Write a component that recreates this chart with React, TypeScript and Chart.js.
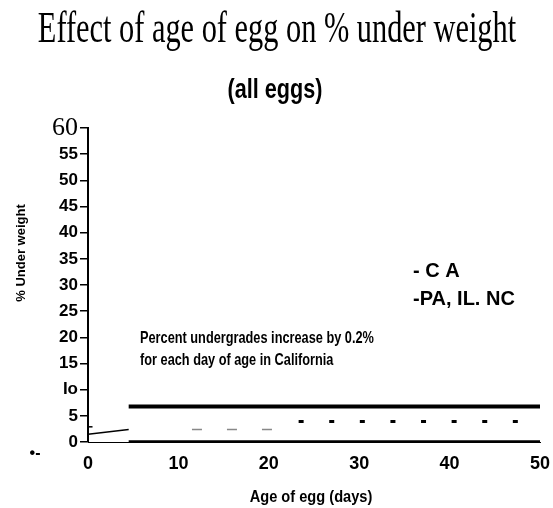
import React, { useEffect, useRef } from "react";
import { Chart, registerables } from "chart.js";

Chart.register(...registerables);

const TITLE = "Effect of age of egg on % under weight";
const SUBTITLE = "(all eggs)";
const X_TITLE = "Age of egg (days)";
const Y_TITLE = "% Under weight";
const NOTE_LINES = ["Percent undergrades increase by 0.2%", "for each day of age in California"];
const LEGEND_LINES = ["- C A", "-PA, IL. NC"];

const yTickValues = [0, 5, 10, 15, 20, 25, 30, 35, 40, 45, 50, 55, 60];
const yTickLabels = ["0", "5", "Io", "15", "20", "25", "30", "35", "40", "45", "50", "55", "60"];
const xTickValues = [0, 10, 20, 30, 40, 50];

// series (age in days, % under weight)
const caAges = [4.5, 50];
const caValues = [6.8, 6.8];
const baseAges = [4.5, 50];
const baseValues = [0, 0];
const earlyAges = [0, 4.5];
const earlyValues = [1.5, 2.4];
const grayAges = [11.5, 20.5];
const grayValues = [2.4, 2.4];
const paAges = [23.3, 47.6];
const paValues = [3.9, 3.9];
const markAges = [0, 0.5];
const markValues = [2.9, 2.9];

const pts = (xs: number[], ys: number[]) => xs.map((x, i) => ({ x, y: ys[i] }));

function drawText(
  ctx: CanvasRenderingContext2D,
  text: string,
  x: number,
  y: number,
  font: string,
  scaleX: number,
  align: CanvasTextAlign,
  rotate = 0
) {
  ctx.save();
  ctx.translate(x, y);
  if (rotate) ctx.rotate(rotate);
  ctx.scale(scaleX, 1);
  ctx.font = font;
  ctx.fillStyle = "#000";
  ctx.textAlign = align;
  ctx.textBaseline = "alphabetic";
  ctx.fillText(text, 0, 0);
  ctx.restore();
}

const textPlugin = {
  id: "texts",
  afterDraw(chart: any) {
    const ctx = chart.ctx as CanvasRenderingContext2D;
    drawText(ctx, TITLE, 277, 42, '44px "Liberation Serif"', 0.69, "center");
    drawText(ctx, SUBTITLE, 275, 98, 'bold 27px "Liberation Sans"', 0.8, "center");
    drawText(ctx, NOTE_LINES[0], 140, 343, 'bold 17px "Liberation Sans"', 0.75, "left");
    drawText(ctx, NOTE_LINES[1], 140, 365, 'bold 17px "Liberation Sans"', 0.75, "left");
    drawText(ctx, LEGEND_LINES[0], 413, 277, 'bold 20px "Liberation Sans"', 1, "left");
    drawText(ctx, LEGEND_LINES[1], 413, 305, 'bold 20px "Liberation Sans"', 1, "left");
    drawText(ctx, X_TITLE, 311, 502, 'bold 17px "Liberation Sans"', 0.86, "center");
    drawText(ctx, Y_TITLE, 25, 253, 'bold 13px "Liberation Sans"', 1, "center", -Math.PI / 2);
    drawText(ctx, "\u2022-", 35, 458, 'bold 16px "Liberation Sans"', 1, "center");
  },
};

export default function App() {
  const ref = useRef<HTMLCanvasElement | null>(null);
  useEffect(() => {
    if (!ref.current) return;
    const common = { pointRadius: 0, fill: false, tension: 0 };
    const chart = new Chart(ref.current, {
      type: "line",
      data: {
        datasets: [
          { ...common, data: pts(caAges, caValues), borderColor: "#000", borderWidth: 4 },
          { ...common, data: pts(baseAges, baseValues), borderColor: "#000", borderWidth: 3.5 },
          { ...common, data: pts(earlyAges, earlyValues), borderColor: "#000", borderWidth: 1.5 },
          { ...common, data: pts(grayAges, grayValues), borderColor: "#888", borderWidth: 1.5, borderDash: [10, 25] },
          { ...common, data: pts(paAges, paValues), borderColor: "#000", borderWidth: 3, borderDash: [5, 25.6] },
          { ...common, data: pts(markAges, markValues), borderColor: "#000", borderWidth: 1.5 },
        ] as any,
      },
      plugins: [textPlugin],
      options: {
        animation: false,
        responsive: true,
        maintainAspectRatio: false,
        layout: { padding: { left: 0, right: 13, top: 128, bottom: 0 } },
        plugins: { legend: { display: false }, title: { display: false }, tooltip: { enabled: false } },
        scales: {
          x: {
            type: "linear",
            min: 0,
            max: 50,
            afterFit: (axis: any) => {
              axis.height = 66;
              axis.paddingLeft = 0;
              axis.paddingRight = 0;
            },
            afterBuildTicks: (axis: any) => { axis.ticks = xTickValues.map((v) => ({ value: v })); },
            grid: { display: false, drawTicks: false },
            border: { display: true, color: "#000", width: 1, dash: [2, 2] },
            ticks: {
              autoSkip: false,
              maxRotation: 0,
              padding: 11,
              color: "#000",
              font: { family: "Liberation Sans", size: 18, weight: "bold" },
              callback: (v: any) => String(v),
            },
          },
          y: {
            type: "linear",
            min: 0,
            max: 60,
            afterFit: (axis: any) => {
              axis.width = 88;
              axis.paddingTop = 0;
              axis.paddingBottom = 0;
            },
            afterBuildTicks: (axis: any) => { axis.ticks = yTickValues.map((v) => ({ value: v })); },
            grid: { display: true, drawOnChartArea: false, drawTicks: true, tickLength: 8, color: "#000", lineWidth: 1.5 },
            border: { display: true, color: "#000", width: 2 },
            ticks: {
              autoSkip: false,
              padding: 2,
              color: "#000",
              font: (c: any) =>
                c.tick && c.tick.value === 60
                  ? { family: "Liberation Serif", size: 26, weight: "normal" }
                  : { family: "Liberation Sans", size: 17, weight: "bold" },
              callback: (v: any) => {
                const i = yTickValues.indexOf(Number(v));
                return i >= 0 ? yTickLabels[i] : "";
              },
            },
          },
        },
      } as any,
    });
    return () => chart.destroy();
  }, []);
  return (
    <div style={{ position: "fixed", left: 0, top: 0, width: 553, height: 508, background: "#fff" }}>
      <canvas ref={ref} />
    </div>
  );
}
